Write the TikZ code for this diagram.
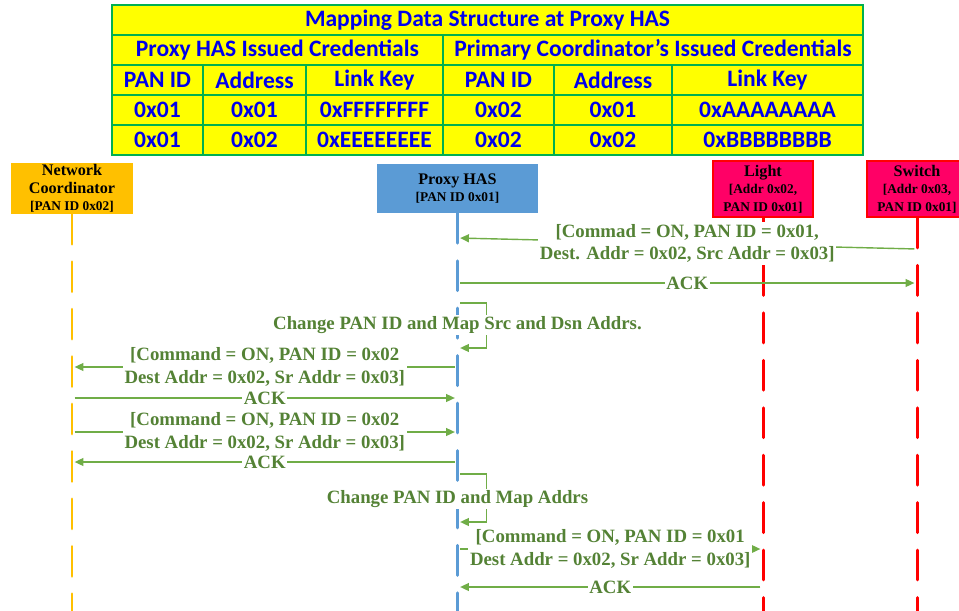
\documentclass[tikz,border=0pt]{standalone}
\usepackage{fontspec}
\setmainfont{Liberation Serif}
\newfontfamily\tblfont{Carlito}
\usepackage{xcolor}
\usepackage{tikz}
\usetikzlibrary{arrows.meta, positioning}

\definecolor{tblyellow}{RGB}{255,255,0}
\definecolor{tblgreen}{RGB}{0,176,80}
\definecolor{tblblue}{RGB}{0,0,235}
\definecolor{ncorange}{RGB}{255,192,0}
\definecolor{hasblue}{RGB}{91,155,213}
\definecolor{devpink}{RGB}{255,0,102}
\definecolor{devred}{RGB}{255,0,0}
\definecolor{msgtext}{RGB}{84,130,53}
\definecolor{msgline}{RGB}{112,173,71}
\newcommand{\actsub}{\fontsize{7.6}{10}\selectfont}

\begin{document}
\begin{tikzpicture}[x=0.02cm, y=-0.02cm,
    cell/.style={rectangle, draw=tblgreen, line width=1.1pt, fill=tblyellow, minimum height=0.6cm, inner sep=0pt, text=tblblue, font=\tblfont\bfseries\fontsize{13.4}{15}\selectfont},
    actor/.style={rectangle, align=center, inner sep=0pt, font=\bfseries\fontsize{9.2}{10}\selectfont},
    lifeline/.style={line width=1.7pt, line cap=round, dash pattern=on 17pt off 10pt},
    msg/.style={draw=msgline, line width=0.8pt, shorten <=1.5pt, shorten >=1.5pt, -{Triangle[length=5pt,width=4.5pt]}},
    msglabel/.style={fill=white, text=msgtext, align=center, inner sep=1pt, font=\bfseries\fontsize{10.7}{13}\selectfont}
]
    \useasboundingbox (0,0) rectangle (959,611);

    % mapping table
    \node[cell, minimum width=15.02cm] (title) at (487.5,20) {Mapping Data Structure at Proxy HAS};
    \node[cell, minimum width=6.62cm] (hasCred) at (277.5,50) {Proxy HAS Issued Credentials};
    \node[cell, minimum width=8.4cm] (pcCred) at (653,50) {Primary Coordinator’s Issued Credentials};
    \foreach \x/\w/\head/\ra/\rb [count=\i] in {
        157.5/1.82/PAN ID/0x01/0x01,
        254.5/2.06/Address/0x01/0x02,
        374.5/2.74/Link Key/0xFFFFFFFF/0xEEEEEEEE,
        498.5/2.22/PAN ID/0x02/0x02,
        613/2.36/Address/0x01/0x02,
        767.5/3.82/Link Key/0xAAAAAAAA/0xBBBBBBBB} {
        \node[cell, minimum width=\w cm] (h\i) at (\x,80) {\head};
        \node[cell, minimum width=\w cm] (ra\i) at (\x,110) {\ra};
        \node[cell, minimum width=\w cm] (rb\i) at (\x,140) {\rb};
    }

    % actors
    \node[actor, fill=ncorange, minimum width=2.46cm, minimum height=1.02cm] (nc) at (72,188.5) {Network\\Coordinator\\\actsub [PAN ID 0x02]};
    \node[actor, fill=hasblue, minimum width=3.22cm, minimum height=0.98cm] (has) at (457.5,188.5) {Proxy HAS\\\actsub [PAN ID 0x01]};
    \node[actor, fill=devpink, draw=devred, line width=1.2pt, minimum width=2cm, minimum height=1.12cm] (light) at (763,189) {Light\\\actsub [Addr 0x02,\\\actsub PAN ID 0x01]};
    \node[actor, fill=devpink, draw=devred, line width=1.2pt, minimum width=2cm, minimum height=1.12cm] (sw) at (917,189) {Switch\\\actsub [Addr 0x03,\\\actsub PAN ID 0x01]};

    % message levels
    \foreach \n/\y in {a/238, b/249, c/283, d/303, e/348, f/325, g/367, h/398, i/432, j/462, k/474, l/522, m/499, n/549, o/587, z/615}
        \coordinate (y\n) at (0,\y);

    % lifelines
    \draw[lifeline, ncorange] (nc.south) -- (nc |- yz);
    \draw[lifeline, hasblue] (has.south) -- (has |- yz);
    \draw[lifeline, devred] (light.south) -- (light |- yz);
    \draw[lifeline, devred] (sw.south) -- (sw |- yz);

    % messages
    \draw[msg] (sw |- yb) -- node[msglabel] {[Commad = ON, PAN ID = 0x01,\\Dest. Addr = 0x02, Src Addr = 0x03]} (has |- ya);
    \draw[msg] (has |- yc) -- node[msglabel] {ACK} (sw |- yc);
    \draw[msg] (has |- yd) -- ++(29,0) |- (has |- ye);
    \node[msglabel] (chg1) at (has |- yf) {Change PAN ID and Map Src and Dsn Addrs.};
    \draw[msg] (has |- yg) -- node[msglabel] {[Command = ON, PAN ID = 0x02\\Dest Addr = 0x02, Sr Addr = 0x03]} (nc |- yg);
    \draw[msg] (nc |- yh) -- node[msglabel] {ACK} (has |- yh);
    \draw[msg] (nc |- yi) -- node[msglabel] {[Command = ON, PAN ID = 0x02\\Dest Addr = 0x02, Sr Addr = 0x03]} (has |- yi);
    \draw[msg] (has |- yj) -- node[msglabel] {ACK} (nc |- yj);
    \draw[msg] (has |- yk) -- ++(29,0) |- (has |- yl);
    \node[msglabel] (chg2) at (has |- ym) {Change PAN ID and Map Addrs};
    \draw[msg] (has |- yn) -- node[msglabel] {[Command = ON, PAN ID = 0x01\\Dest Addr = 0x02, Sr Addr = 0x03]} (light |- yn);
    \draw[msg] (light |- yo) -- node[msglabel] {ACK} (has |- yo);
\end{tikzpicture}
\end{document}
